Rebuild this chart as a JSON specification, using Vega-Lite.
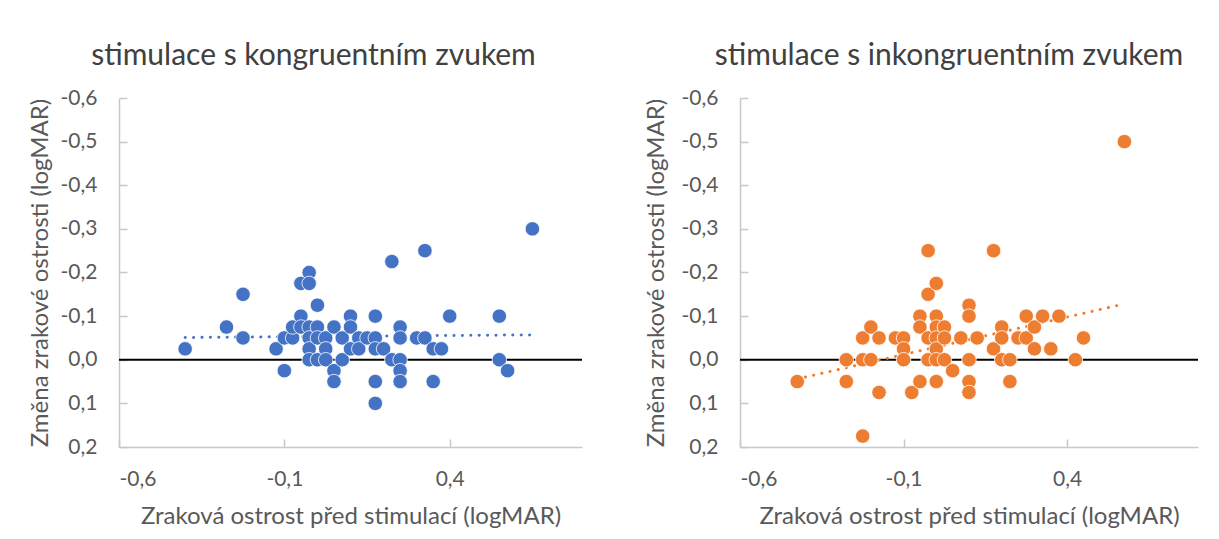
{
  "$schema": "https://vega.github.io/schema/vega-lite/v6.json",
  "background": "white",
  "padding": {"left": 28, "top": 41, "right": 0, "bottom": 0},
  "config": {
    "font": "Lato",
    "view": {"stroke": null},
    "concat": {"spacing": 61},
    "axis": {
      "grid": false,
      "domainColor": "#c8c8c8",
      "domainWidth": 1.5,
      "tickColor": "#c8c8c8",
      "tickWidth": 1.5,
      "tickSize": -8,
      "labelFont": "Lato",
      "labelFontSize": 21,
      "labelColor": "#595959",
      "titleFont": "Lato",
      "titleFontSize": 24,
      "titleFontWeight": "normal",
      "titleColor": "#595959",
      "labelExpr": "replace(replace(format(datum.value, '.1f'), '−', '-'), '.', ',')"
    }
  },
  "datasets": {
    "kongr": [
      {"x": -0.4, "y": -0.025}, {"x": -0.275, "y": -0.075}, {"x": -0.225, "y": -0.15}, {"x": -0.225, "y": -0.05},
      {"x": -0.125, "y": -0.025}, {"x": -0.1, "y": 0.025}, {"x": -0.1, "y": -0.05}, {"x": -0.075, "y": -0.05},
      {"x": -0.075, "y": -0.075}, {"x": -0.05, "y": -0.1}, {"x": -0.05, "y": -0.075}, {"x": -0.05, "y": -0.175},
      {"x": -0.025, "y": -0.2}, {"x": -0.025, "y": -0.175}, {"x": -0.025, "y": -0.075}, {"x": -0.025, "y": -0.05},
      {"x": -0.025, "y": -0.025}, {"x": -0.025, "y": 0}, {"x": 0, "y": -0.125}, {"x": 0, "y": -0.075},
      {"x": 0, "y": -0.05}, {"x": 0, "y": 0}, {"x": 0.025, "y": -0.05}, {"x": 0.025, "y": -0.025},
      {"x": 0.025, "y": 0}, {"x": 0.05, "y": -0.075}, {"x": 0.05, "y": 0.025}, {"x": 0.05, "y": 0.05},
      {"x": 0.075, "y": -0.05}, {"x": 0.075, "y": 0}, {"x": 0.1, "y": -0.1}, {"x": 0.1, "y": -0.075},
      {"x": 0.1, "y": -0.025}, {"x": 0.125, "y": -0.05}, {"x": 0.125, "y": -0.025}, {"x": 0.15, "y": -0.05},
      {"x": 0.175, "y": -0.1}, {"x": 0.175, "y": -0.05}, {"x": 0.175, "y": -0.025}, {"x": 0.175, "y": 0.05},
      {"x": 0.175, "y": 0.1}, {"x": 0.2, "y": -0.025}, {"x": 0.225, "y": -0.225}, {"x": 0.225, "y": 0},
      {"x": 0.25, "y": -0.075}, {"x": 0.25, "y": -0.05}, {"x": 0.25, "y": 0}, {"x": 0.25, "y": 0.025},
      {"x": 0.25, "y": 0.05}, {"x": 0.3, "y": -0.05}, {"x": 0.325, "y": -0.05}, {"x": 0.325, "y": -0.25},
      {"x": 0.35, "y": -0.025}, {"x": 0.35, "y": 0.05}, {"x": 0.375, "y": -0.025}, {"x": 0.4, "y": -0.1},
      {"x": 0.55, "y": -0.1}, {"x": 0.55, "y": 0}, {"x": 0.575, "y": 0.025}, {"x": 0.65, "y": -0.3}
    ],
    "inkongr": [
      {"x": -0.425, "y": 0.05}, {"x": -0.275, "y": 0}, {"x": -0.275, "y": 0.05}, {"x": -0.225, "y": -0.05},
      {"x": -0.225, "y": 0}, {"x": -0.225, "y": 0.175}, {"x": -0.2, "y": -0.075}, {"x": -0.2, "y": 0},
      {"x": -0.175, "y": -0.05}, {"x": -0.175, "y": 0.075}, {"x": -0.125, "y": -0.05}, {"x": -0.1, "y": -0.05},
      {"x": -0.1, "y": -0.025}, {"x": -0.1, "y": 0}, {"x": -0.075, "y": 0.075}, {"x": -0.05, "y": -0.1},
      {"x": -0.05, "y": -0.075}, {"x": -0.05, "y": 0.05}, {"x": -0.025, "y": -0.25}, {"x": -0.025, "y": -0.15},
      {"x": -0.025, "y": -0.05}, {"x": -0.025, "y": 0}, {"x": 0, "y": -0.175}, {"x": 0, "y": -0.1},
      {"x": 0, "y": -0.075}, {"x": 0, "y": -0.05}, {"x": 0, "y": -0.025}, {"x": 0, "y": 0},
      {"x": 0, "y": 0.05}, {"x": 0.025, "y": -0.075}, {"x": 0.025, "y": -0.05}, {"x": 0.025, "y": 0},
      {"x": 0.05, "y": 0.025}, {"x": 0.075, "y": -0.05}, {"x": 0.1, "y": -0.125}, {"x": 0.1, "y": -0.1},
      {"x": 0.1, "y": 0}, {"x": 0.1, "y": 0.05}, {"x": 0.1, "y": 0.075}, {"x": 0.125, "y": -0.05},
      {"x": 0.175, "y": -0.25}, {"x": 0.175, "y": -0.025}, {"x": 0.2, "y": -0.075}, {"x": 0.2, "y": -0.05},
      {"x": 0.2, "y": 0}, {"x": 0.225, "y": 0}, {"x": 0.225, "y": 0.05}, {"x": 0.25, "y": -0.05},
      {"x": 0.275, "y": -0.1}, {"x": 0.275, "y": -0.05}, {"x": 0.3, "y": -0.075}, {"x": 0.3, "y": -0.025},
      {"x": 0.325, "y": -0.1}, {"x": 0.35, "y": -0.025}, {"x": 0.375, "y": -0.1}, {"x": 0.425, "y": 0},
      {"x": 0.45, "y": -0.05}, {"x": 0.575, "y": -0.5}
    ],
    "trendK": [{"x": -0.4, "y": -0.051}, {"x": 0.65, "y": -0.057}],
    "trendI": [{"x": -0.425, "y": 0.044}, {"x": 0.575, "y": -0.128}],
    "zero": [{"y": 0}]
  },
  "hconcat": [
    {
      "width": 463,
      "height": 349,
      "title": {"text": "stimulace s kongruentním zvukem", "font": "Lato", "fontSize": 30, "fontWeight": "normal", "color": "#404040", "frame": "group", "anchor": "middle", "dx": -37, "offset": 16},
      "layer": [
        {
          "data": {"name": "zero"},
          "mark": {"type": "rule", "color": "black", "strokeWidth": 2},
          "encoding": {"y": {"field": "y", "type": "quantitative"}}
        },
        {
          "data": {"name": "trendK"},
          "mark": {"type": "line", "color": "#4472C4", "strokeWidth": 3, "strokeDash": [0.1, 8.3], "strokeCap": "round"},
          "encoding": {"x": {"field": "x", "type": "quantitative"}, "y": {"field": "y", "type": "quantitative"}}
        },
        {
          "data": {"name": "kongr"},
          "mark": {"type": "circle", "size": 210, "color": "#4472C4", "opacity": 1, "stroke": "white", "strokeWidth": 0.8},
          "encoding": {
            "x": {"field": "x", "type": "quantitative", "scale": {"domain": [-0.6, 0.8], "nice": false, "zero": false},
                  "axis": {"values": [-0.6, -0.1, 0.4], "labelPadding": 29, "title": "Zraková ostrost před stimulací (logMAR)", "titlePadding": 15}},
            "y": {"field": "y", "type": "quantitative", "scale": {"domain": [-0.6, 0.2], "reverse": true, "nice": false, "zero": false},
                  "axis": {"values": [-0.6, -0.5, -0.4, -0.3, -0.2, -0.1, 0, 0.1, 0.2], "labelPadding": 30, "title": "Změna zrakové ostrosti (logMAR)", "titlePadding": 8}}
          }
        }
      ]
    },
    {
      "width": 458,
      "height": 349,
      "title": {"text": "stimulace s inkongruentním zvukem", "font": "Lato", "fontSize": 30, "fontWeight": "normal", "color": "#404040", "frame": "group", "anchor": "middle", "dx": -20, "offset": 16},
      "layer": [
        {
          "data": {"name": "zero"},
          "mark": {"type": "rule", "color": "black", "strokeWidth": 2},
          "encoding": {"y": {"field": "y", "type": "quantitative"}}
        },
        {
          "data": {"name": "trendI"},
          "mark": {"type": "line", "color": "#ED7D31", "strokeWidth": 3, "strokeDash": [0.1, 8.3], "strokeCap": "round"},
          "encoding": {"x": {"field": "x", "type": "quantitative"}, "y": {"field": "y", "type": "quantitative"}}
        },
        {
          "data": {"name": "inkongr"},
          "mark": {"type": "circle", "size": 210, "color": "#ED7D31", "opacity": 1, "stroke": "white", "strokeWidth": 0.8},
          "encoding": {
            "x": {"field": "x", "type": "quantitative", "scale": {"domain": [-0.6, 0.8], "nice": false, "zero": false},
                  "axis": {"values": [-0.6, -0.1, 0.4], "labelPadding": 29, "title": "Zraková ostrost před stimulací (logMAR)", "titlePadding": 15}},
            "y": {"field": "y", "type": "quantitative", "scale": {"domain": [-0.6, 0.2], "reverse": true, "nice": false, "zero": false},
                  "axis": {"values": [-0.6, -0.5, -0.4, -0.3, -0.2, -0.1, 0, 0.1, 0.2], "labelPadding": 30, "title": "Změna zrakové ostrosti (logMAR)", "titlePadding": 13}}
          }
        }
      ]
    }
  ]
}
